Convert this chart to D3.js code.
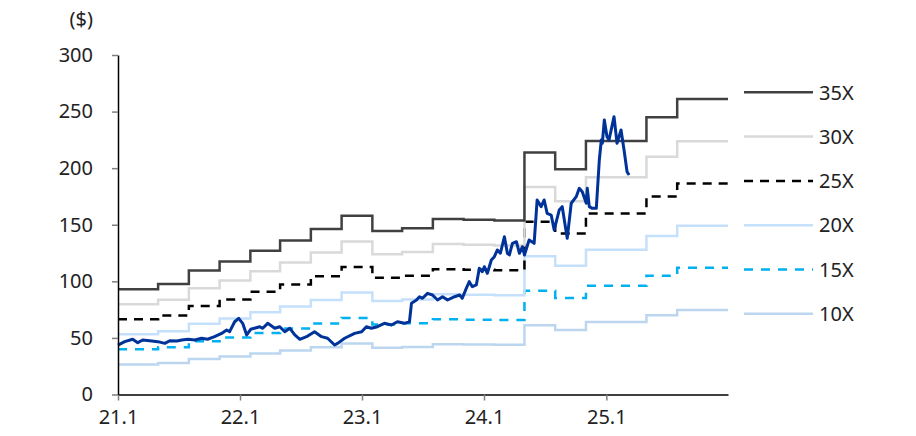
<!DOCTYPE html>
<html>
<head>
<meta charset="utf-8">
<script src="https://cdn.jsdelivr.net/npm/d3@7"></script>
<style>
	body { margin: 0; background: #fff; }
	text { font-family: "Noto Sans", "Open Sans", sans-serif; fill: #222; }
</style>
</head>
<body>
<div id="chart-wrap"></div>
<script>
//Data

	//EPS steps (start date of each quarter, value)
const epsDates = ["2021-01-01", "2021-05-01", "2021-08-01", "2021-11-01", "2022-02-01", "2022-05-01",
	"2022-08-01", "2022-11-01", "2023-02-01", "2023-05-01", "2023-08-01", "2023-11-01", "2024-02-01",
	"2024-05-01", "2024-08-01", "2024-11-01", "2025-02-01", "2025-05-01", "2025-08-01", "2025-12-31"];
const epsValues = [2.66, 2.79, 3.13, 3.36, 3.63, 3.89, 4.18, 4.51, 4.13, 4.20, 4.43, 4.41, 4.39,
	6.11, 5.69, 6.40, 6.40, 7.00, 7.46, 7.46];

const multiples = [35, 30, 25, 20, 15, 10];
const bandLabels = ["35X", "30X", "25X", "20X", "15X", "10X"];

	//Share price
const priceDates = ["2021-01-01", "2021-01-21", "2021-02-14", "2021-03-01", "2021-03-16", "2021-04-12",
	"2021-04-30", "2021-05-21", "2021-06-05", "2021-06-26", "2021-07-11", "2021-07-29", "2021-08-19",
	"2021-09-08", "2021-09-26", "2021-10-17", "2021-11-07", "2021-11-22", "2021-12-01", "2021-12-16",
	"2021-12-28", "2022-01-09", "2022-01-21", "2022-02-02", "2022-03-01", "2022-03-10", "2022-03-25",
	"2022-04-15", "2022-04-30", "2022-05-15", "2022-05-30", "2022-06-14", "2022-06-29", "2022-07-19",
	"2022-08-12", "2022-09-02", "2022-09-20", "2022-10-11", "2022-10-20", "2022-11-10", "2022-12-10",
	"2022-12-31", "2023-01-14", "2023-01-29", "2023-02-16", "2023-03-09", "2023-03-30", "2023-04-17",
	"2023-05-08", "2023-05-23", "2023-05-29", "2023-06-13", "2023-06-22", "2023-07-01", "2023-07-16",
	"2023-07-31", "2023-08-15", "2023-08-30", "2023-09-14", "2023-10-05", "2023-10-20", "2023-10-28",
	"2023-11-09", "2023-11-18", "2023-11-27", "2023-12-09", "2023-12-18", "2023-12-27", "2024-01-02",
	"2024-01-11", "2024-01-23", "2024-02-01", "2024-02-10", "2024-02-19", "2024-03-02", "2024-03-11",
	"2024-03-17", "2024-03-26", "2024-04-07", "2024-04-16", "2024-04-25", "2024-05-01", "2024-05-15",
	"2024-05-30", "2024-06-08", "2024-06-20", "2024-06-29", "2024-07-08", "2024-07-20", "2024-07-29",
	"2024-08-13", "2024-08-22", "2024-09-06", "2024-09-18", "2024-10-03", "2024-10-12", "2024-10-21",
	"2024-11-02", "2024-11-05", "2024-11-11", "2024-11-20", "2024-12-02", "2024-12-11", "2024-12-17",
	"2024-12-20", "2024-12-26", "2025-01-03", "2025-01-09", "2025-01-24", "2025-02-02", "2025-02-14",
	"2025-02-23", "2025-03-04", "2025-03-10"];
const priceValues = [43.7, 46.7, 48.8, 45.8, 48.2, 47.3,
	46.7, 45.2, 47.5, 47.3, 48.2, 48.8, 48.2,
	49.7, 48.8, 51.1, 54.0, 57.0, 55.5, 64.3,
	67.3, 62.9, 52.6, 57.6, 59.9, 58.5, 62.9,
	58.5, 59.9, 55.5, 58.5, 52.6, 48.8, 51.1,
	55.5, 51.1, 49.7, 43.7, 45.2, 49.7, 54.0,
	55.5, 59.9, 58.5, 59.9, 62.9, 61.4, 64.3,
	62.9, 64.3, 80.6, 83.5, 86.4, 85.0, 89.4,
	87.9, 83.5, 86.4, 83.5, 86.4, 87.9, 85.0,
	93.8, 99.7, 95.3, 96.8, 111.5, 108.5, 112.9,
	107.1, 118.8, 121.8, 127.7, 124.8, 139.4, 124.8,
	123.3, 133.6, 135.0, 124.8, 130.6, 123.3, 136.5,
	133.6, 171.9, 166.0, 171.9, 160.1, 158.6, 145.4,
	163.0, 166.0, 138.0, 169.0, 174.8, 182.2, 179.2,
	169.0, 182.2, 166.0, 164.5, 164.5, 207.2, 224.9,
	222.0, 242.6, 227.8, 224.9, 245.5, 222.0, 233.7,
	216.0, 196.9, 194.0];

	//Axis ticks
const xTickDates = ["2021-01-01", "2022-01-01", "2023-01-01", "2024-01-01", "2025-01-01"];
const xTickLabels = ["21.1", "22.1", "23.1", "24.1", "25.1"];
const yTicks = [0, 50, 100, 150, 200, 250, 300];

//Styles
const bandStyles = {
	35: { color: "#404040", dash: null },
	30: { color: "#d9d9d9", dash: null },
	25: { color: "#000000", dash: "9,7" },
	20: { color: "#c5e0fb", dash: null },
	15: { color: "#00b0f0", dash: "9,8" },
	10: { color: "#bcd6ef", dash: null }
};
const priceColor = "#003399";

//Scripted code
const width = 916, height = 436;
const parseDate = d3.timeParse("%Y-%m-%d");

let x = d3.scaleTime()
	.domain([parseDate("2021-01-01"), parseDate("2025-12-31")])
	.range([118, 728]);
let y = d3.scaleLinear()
	.domain([0, 300])
	.range([394.5, 55]);

let svg = d3.select("#chart-wrap")
	.append("svg")
	.attr("width", width)
	.attr("height", height);

let epsData = epsDates.map(function(d, i) { return { date: parseDate(d), eps: epsValues[i] }; });
let priceData = priceDates.map(function(d, i) { return { date: parseDate(d), value: priceValues[i] }; });

	//Band lines, drawn bottom to top
multiples.slice().reverse().forEach(function(m) {
	let bandLine = d3.line()
		.x(function(d) { return x(d.date); })
		.y(function(d) { return y(d.eps * m); })
		.curve(d3.curveStepAfter);
	svg.append("path")
		.datum(epsData)
		.attr("d", bandLine)
		.attr("fill", "none")
		.attr("stroke", bandStyles[m].color)
		.attr("stroke-width", 2.5)
		.attr("stroke-dasharray", bandStyles[m].dash);
});

	//Price line
let priceLine = d3.line()
	.x(function(d) { return x(d.date); })
	.y(function(d) { return y(d.value); });
svg.append("path")
	.datum(priceData)
	.attr("d", priceLine)
	.attr("fill", "none")
	.attr("stroke", priceColor)
	.attr("stroke-width", 3)
	.attr("stroke-linejoin", "round");

	//Axes
let xAxis = d3.axisBottom(x)
	.tickValues(xTickDates.map(parseDate))
	.tickFormat(function(d, i) { return xTickLabels[i]; })
	.tickSizeInner(6)
	.tickSizeOuter(0)
	.tickPadding(9);
let gx = svg.append("g")
	.attr("transform", "translate(0," + y(0) + ")")
	.call(xAxis);

let yAxis = d3.axisLeft(y)
	.tickValues(yTicks)
	.tickSizeInner(6)
	.tickSizeOuter(0)
	.tickPadding(19);
let gy = svg.append("g")
	.attr("transform", "translate(" + x.range()[0] + ",0)")
	.call(yAxis);

[gx, gy].forEach(function(g) {
	g.select(".domain").attr("stroke", "#000").attr("stroke-width", 1.5);
	g.selectAll(".tick line").attr("stroke", "#7f7f7f").attr("stroke-width", 1.5);
	g.selectAll(".tick text")
		.attr("font-size", 20)
		.attr("font-family", "'Noto Sans', 'Open Sans', sans-serif")
		.attr("fill", "#222");
});

svg.append("text")
	.attr("x", 93)
	.attr("y", 26)
	.attr("text-anchor", "end")
	.attr("font-size", 20)
	.text("($)");

	//Legend
let legend = svg.append("g");
bandLabels.forEach(function(lbl, i) {
	let m = multiples[i];
	let ly = 92.3 + i * 44.3;
	legend.append("line")
		.attr("x1", 744)
		.attr("x2", 813)
		.attr("y1", ly)
		.attr("y2", ly)
		.attr("stroke", bandStyles[m].color)
		.attr("stroke-width", 2.5)
		.attr("stroke-dasharray", bandStyles[m].dash);
	legend.append("text")
		.attr("x", 819)
		.attr("y", ly)
		.attr("dy", "0.36em")
		.attr("font-size", 20)
		.text(lbl);
});
</script>
</body>
</html>
